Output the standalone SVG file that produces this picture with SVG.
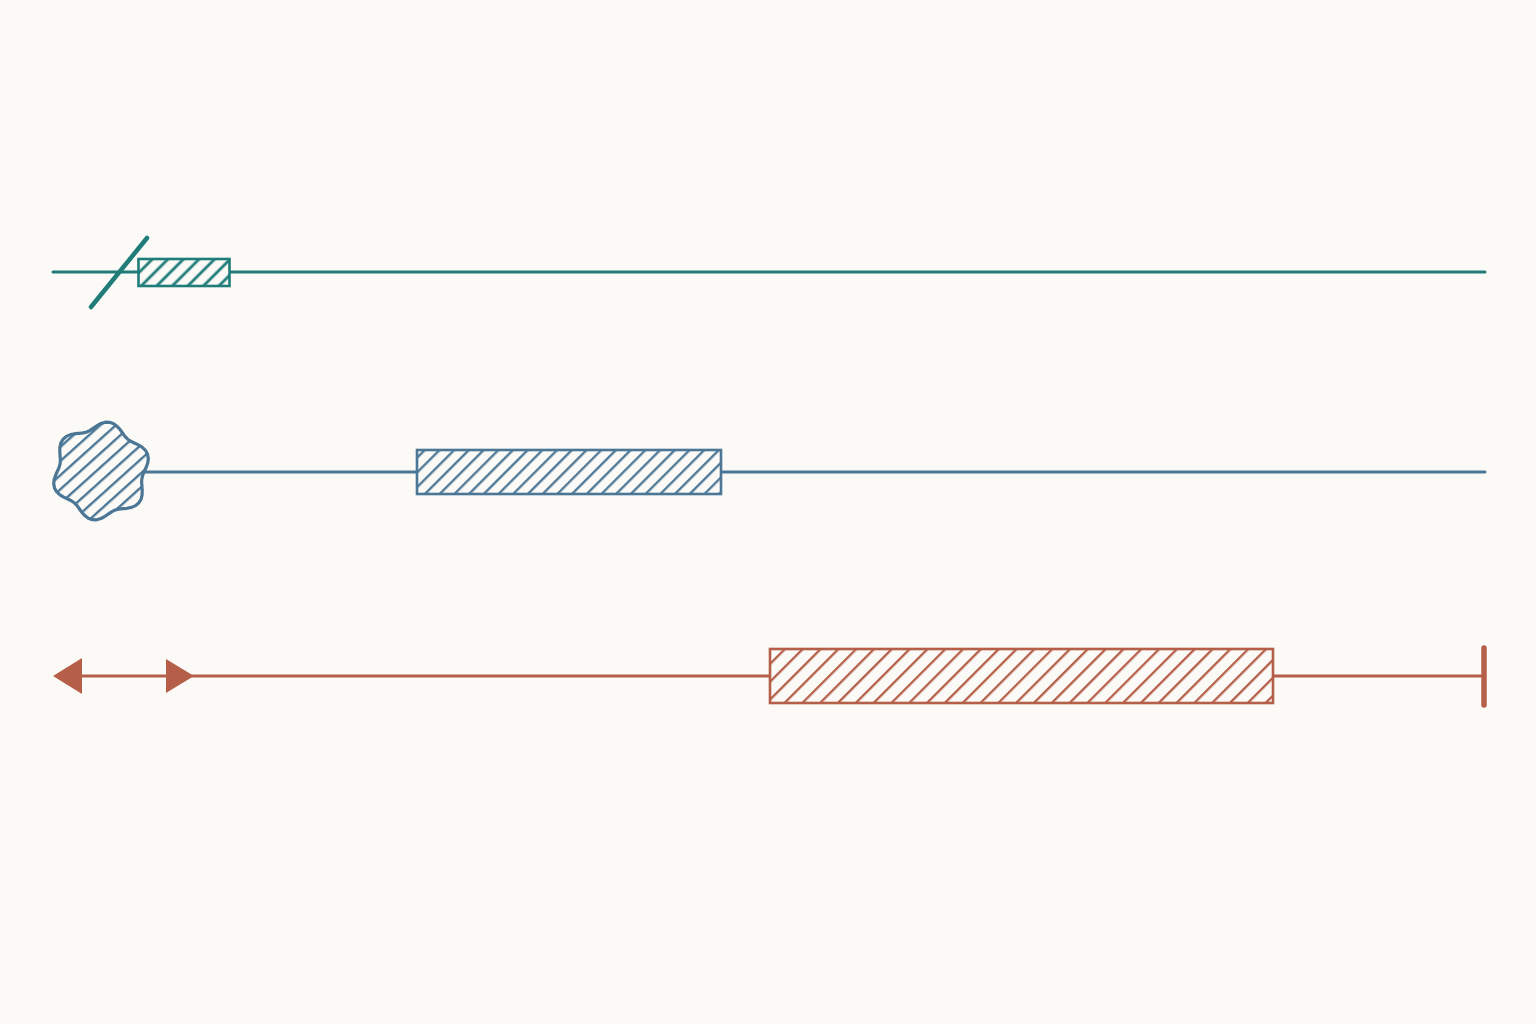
<svg xmlns="http://www.w3.org/2000/svg" width="1536" height="1024" viewBox="0 0 1536 1024">
<defs>
<style>
.teal{stroke:#1f7c79;fill:none}
.blue{stroke:#4b7695;fill:none}
.rust{stroke:#b65f48;fill:none}
.conn{stroke-width:3;stroke-linecap:round}
.box{stroke-width:2.6}
</style>
<pattern id="hTeal" patternUnits="userSpaceOnUse" width="11" height="11" patternTransform="rotate(45)"><rect x="-1" y="-1" width="13" height="13" fill="#fbfaf7"/><line x1="5" y1="-1" x2="5" y2="12" stroke="#1f7c79" stroke-width="2.8"/></pattern>
<pattern id="hBlue" patternUnits="userSpaceOnUse" width="10.4" height="10.4" patternTransform="rotate(45)"><rect x="-1" y="-1" width="13" height="13" fill="#fbfaf7"/><line x1="5" y1="-1" x2="5" y2="12" stroke="#4b7695" stroke-width="2.3"/></pattern>
<pattern id="hBlob" patternUnits="userSpaceOnUse" width="10.5" height="10.5" patternTransform="rotate(48)"><rect x="-1" y="-1" width="13" height="13" fill="#fbfaf7"/><line x1="5" y1="-1" x2="5" y2="12" stroke="#4b7695" stroke-width="2.4"/></pattern>
<pattern id="hRust" patternUnits="userSpaceOnUse" width="12.6" height="12.6" patternTransform="rotate(45)"><rect x="-1" y="-1" width="15" height="15" fill="#fbfaf7"/><line x1="6" y1="-1" x2="6" y2="14" stroke="#b65f48" stroke-width="2.3"/></pattern>
</defs>
<rect width="1536" height="1024" fill="#fbfaf7"/>
<g id="connectors">
<line class="teal conn" x1="53" y1="272" x2="1485" y2="272"/>
<line class="blue conn" x1="140" y1="472" x2="1485" y2="472" stroke-width="2.6"/>
<line class="rust conn" x1="60" y1="676" x2="1484" y2="676"/>
</g>
<g id="teal-break">
<line class="teal" x1="91" y1="307" x2="147" y2="238" stroke-width="4.5" stroke-linecap="round"/>
</g>
<g id="teal-box">
<rect x="138.5" y="259" width="91" height="27" class="teal box" style="fill:url(#hTeal)"/>
</g>
<g id="blue-blob">
<path style="fill:url(#hBlob)" class="blue" stroke-width="3.2" stroke-linejoin="round" d="M144.5,471 L142.9,474.7 141.9,478.2 141.6,481.9 141.9,485.9 142.2,490.2 142.1,494.8 141.1,499.1 138.9,502.8 135.6,505.6 131.5,507.4 127.1,508.3 122.8,508.7 118.8,509.1 115.2,510 111.9,511.6 108.6,513.8 105,516.3 101,518.5 96.7,519.8 92.4,519.7 88.3,518.3 84.8,515.6 81.8,512.2 79.3,508.7 76.9,505.4 74.3,502.8 71.3,500.7 67.7,499 63.7,497.1 59.9,494.8 56.6,491.7 54.5,487.9 53.7,483.7 54.2,479.2 55.7,475 57.5,471 59.1,467.3 60.1,463.8 60.4,460.1 60.1,456.1 59.8,451.8 59.9,447.3 60.9,442.9 63.1,439.2 66.4,436.4 70.5,434.6 74.9,433.7 79.3,433.3 83.2,432.9 86.8,432 90.1,430.4 93.4,428.2 97,425.7 101,423.5 105.3,422.2 109.6,422.3 113.7,423.7 117.2,426.4 120.2,429.8 122.7,433.3 125.1,436.6 127.7,439.2 130.7,441.3 134.3,443 138.3,444.9 142.1,447.2 145.4,450.3 147.5,454.1 148.3,458.3 147.8,462.8 146.3,467 Z"/>
</g>
<g id="blue-box">
<rect x="417" y="450" width="304" height="44" class="blue box" style="fill:url(#hBlue)"/>
</g>
<g id="rust-arrows">
<polygon points="53,676 82,658 82,694" fill="#b65f48"/>
<polygon points="166,659 166,693 194,676" fill="#b65f48"/>
</g>
<g id="rust-box">
<rect x="770" y="649" width="503" height="54" class="rust box" style="fill:url(#hRust)"/>
</g>
<g id="rust-tee">
<line class="rust" x1="1484" y1="648" x2="1484" y2="705" stroke-width="5.5" stroke-linecap="round"/>
</g>
</svg>
